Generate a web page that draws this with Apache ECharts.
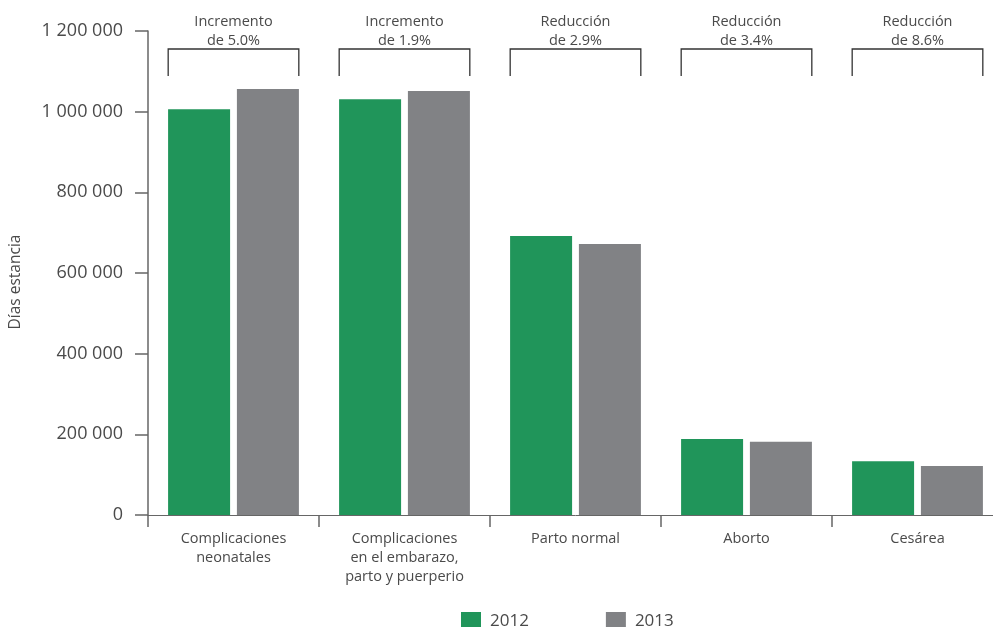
<!DOCTYPE html>
<html>
<head>
<meta charset="utf-8">
<script src="https://cdn.jsdelivr.net/npm/echarts@6/dist/echarts.min.js"></script>
<style>
html,body{margin:0;padding:0;background:#fff;overflow:hidden;width:993px;height:627px;}
#c{width:1003px;height:627px;}
</style>
</head>
<body>
<div id="c"></div>
<script>
const categories = ['Complicaciones\nneonatales', 'Complicaciones\nen el embarazo,\nparto y puerperio', 'Parto normal', 'Aborto', 'Cesárea'];
const values2012 = [1006000, 1031000, 692000, 188500, 133000];
const values2013 = [1056000, 1051000, 672000, 181500, 121600];
const changeLabels = ['Incremento\nde 5.0%', 'Incremento\nde 1.9%', 'Reducción\nde 2.9%', 'Reducción\nde 3.4%', 'Reducción\nde 8.6%'];
const seriesNames = ['2012', '2013'];
const yTicks = { min: 0, max: 1200000, interval: 200000 };

const FONT = '"Open Sans", "Noto Sans", sans-serif';
const TXT = '#4a4a4a';
const chart = echarts.init(document.getElementById('c'), null, { renderer: 'canvas' });

function fmt(v) {
  return String(v).replace(/\B(?=(\d{3})+(?!\d))/g, ' ');
}

chart.setOption({
  animation: false,
  backgroundColor: '#fff',
  textStyle: { fontFamily: FONT },
  grid: { left: 148, right: 0, top: 31, bottom: 112, containLabel: false },
  legend: {
    data: seriesNames,
    left: 456,
    top: 607,
    itemWidth: 20,
    itemHeight: 18,
    itemGap: 77,
    icon: 'rect',
    textStyle: { fontSize: 17, color: TXT, fontFamily: FONT, padding: [0, 0, 0, 4] }
  },
  xAxis: {
    type: 'category',
    data: categories,
    axisLine: { lineStyle: { color: '#666', width: 1 } },
    axisTick: { show: true, length: 12, alignWithLabel: false, lineStyle: { color: '#666', width: 1.5 } },
    axisLabel: { color: TXT, fontSize: 14.5, lineHeight: 19, margin: 14, fontFamily: FONT, interval: 0 },
    splitLine: { show: false }
  },
  yAxis: {
    type: 'value',
    min: yTicks.min,
    max: yTicks.max,
    interval: yTicks.interval,
    name: 'Días estancia',
    nameLocation: 'middle',
    nameGap: 124,
    nameTextStyle: { color: TXT, fontSize: 15.5, fontFamily: FONT, padding: [0, 0, 0, -18] },
    axisLine: { show: true, lineStyle: { color: '#666', width: 1.5 } },
    axisTick: { show: true, length: 13, lineStyle: { color: '#666', width: 1.5 } },
    axisLabel: { color: TXT, fontSize: 18, margin: 25, fontFamily: FONT, formatter: fmt },
    splitLine: { show: false }
  },
  series: [
    {
      name: seriesNames[0], type: 'bar', data: values2012,
      barWidth: 62, barGap: '11%',
      itemStyle: { color: '#20955a' }
    },
    {
      name: seriesNames[1], type: 'bar', data: values2013,
      barWidth: 62, barGap: '11%',
      itemStyle: { color: '#818285' }
    },
    {
      type: 'custom',
      clip: false,
      silent: true,
      encode: { x: 0, y: 1 },
      data: changeLabels.map((t, i) => [i, yTicks.max]),
      renderItem: function (params, api) {
        const idx = api.value(0);
        const c = api.coord([idx, api.value(1)]);
        const w = api.size([1, 0])[0];
        const half = w * 0.382;
        const x0 = c[0] - half, x1 = c[0] + half;
        const yTop = c[1] + 18, yBot = c[1] + 45;
        return {
          type: 'group',
          children: [
            {
              type: 'polyline',
              shape: { points: [[x0, yBot], [x0, yTop], [x1, yTop], [x1, yBot]] },
              style: { stroke: '#333', lineWidth: 1.3, fill: null }
            },
            {
              type: 'text',
              style: {
                text: changeLabels[idx],
                x: c[0], y: c[1],
                align: 'center', verticalAlign: 'middle',
                fontSize: 14.5, lineHeight: 19, fill: TXT, fontFamily: FONT
              }
            }
          ]
        };
      }
    }
  ]
});
</script>
</body>
</html>
